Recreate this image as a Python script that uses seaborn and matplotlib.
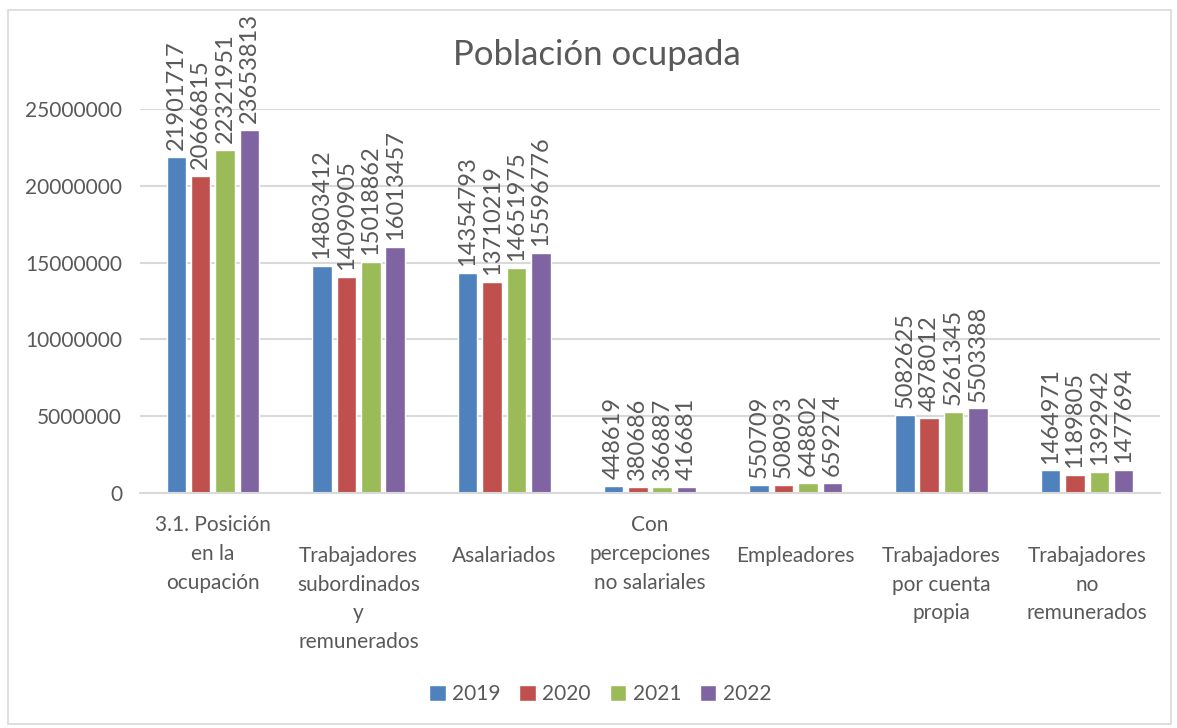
import pandas as pd
import matplotlib.pyplot as plt
import seaborn as sns
from matplotlib.patches import Rectangle

# data
categories = [
    "3.1. Posición\nen la\nocupación",
    "Trabajadores\nsubordinados\ny\nremunerados",
    "Asalariados",
    "Con\npercepciones\nno salariales",
    "Empleadores",
    "Trabajadores\npor cuenta\npropia",
    "Trabajadores\nno\nremunerados",
]
years = ["2019", "2020", "2021", "2022"]
values_2019 = [21901717, 14803412, 14354793, 448619, 550709, 5082625, 1464971]
values_2020 = [20666815, 14090905, 13710219, 380686, 508093, 4878012, 1189805]
values_2021 = [22321951, 15018862, 14651975, 366887, 648802, 5261345, 1392942]
values_2022 = [23653813, 16013457, 15596776, 416681, 659274, 5503388, 1477694]

colors = ["#4F81BD", "#C0504D", "#9BBB59", "#8064A2"]
text_color = "#595959"
grid_color = "#D9D9D9"

rows = []
for year, vals in zip(years, [values_2019, values_2020, values_2021, values_2022]):
    for cat, v in zip(categories, vals):
        rows.append({"categoria": cat, "anio": year, "valor": v})
df = pd.DataFrame(rows)

sns.set_style("white")
plt.rcParams["font.family"] = ["Lato", "DejaVu Sans"]

fig = plt.figure(figsize=(11.77, 7.28), dpi=100)
ax = fig.add_axes([0.119, 0.3228, 0.8665, 0.5275])

sns.barplot(data=df, x="categoria", y="valor", hue="anio", palette=colors,
            width=0.67, gap=0.2, ax=ax, saturation=1, errorbar=None)

ax.set_ylim(0, 25000000)
ax.set_yticks(range(0, 25000001, 5000000))
ax.set_yticklabels([str(t) for t in range(0, 25000001, 5000000)])
ax.yaxis.grid(True, color=grid_color, linewidth=1.5)
ax.set_axisbelow(True)
for s in ["top", "right", "left"]:
    ax.spines[s].set_visible(False)
ax.spines["bottom"].set_color(grid_color)
ax.spines["bottom"].set_linewidth(1.5)
ax.tick_params(axis="both", length=0, labelsize=15, colors=text_color)
ax.tick_params(axis="y", pad=13)
ax.set_xlabel("")
ax.set_ylabel("")

# labels with fewer lines sit one line lower in the reference
for i, tick in enumerate(ax.xaxis.get_major_ticks()):
    tick.set_pad(16 if i in (0, 3) else 38)
for lab in ax.get_xticklabels():
    lab.set_linespacing(1.55)

for cont in ax.containers:
    ax.bar_label(cont, fmt="%d", rotation=90, padding=5, fontsize=17,
                 color=text_color, clip_on=False)

handles, labels = ax.get_legend_handles_labels()
ax.legend_.remove()
fig.legend(handles, labels, loc="center", bbox_to_anchor=(0.51, 0.047), ncol=4,
           frameon=False, fontsize=15, labelcolor=text_color, handlelength=0.8,
           handleheight=0.8, handletextpad=0.3, columnspacing=0.9)

fig.text(0.507, 0.925, "Población ocupada", ha="center", va="center",
         fontsize=25, color=text_color)

fig.patches.append(Rectangle((0.007, 0.005), 0.988, 0.981, transform=fig.transFigure,
                             fill=False, edgecolor=grid_color, linewidth=1.2))

fig.savefig("out.png", dpi=100)
